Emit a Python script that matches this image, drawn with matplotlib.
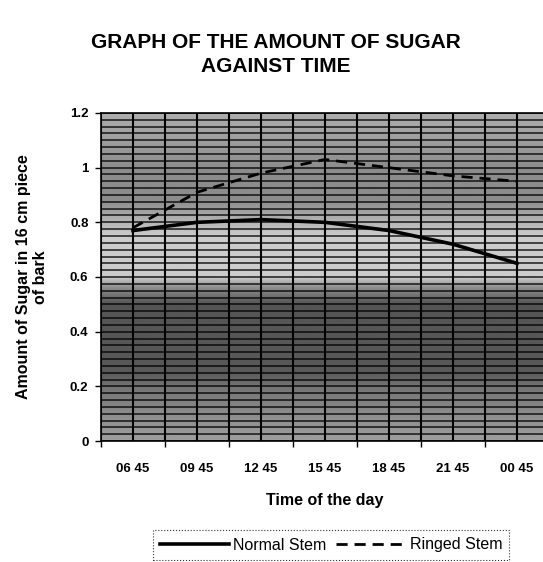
import matplotlib
matplotlib.use("Agg")
import matplotlib.pyplot as plt
import numpy as np

times = ["06 45", "09 45", "12 45", "15 45", "18 45", "21 45", "00 45"]
normal_stem = [0.77, 0.80, 0.81, 0.80, 0.77, 0.72, 0.65]
ringed_stem = [0.78, 0.91, 0.98, 1.03, 1.00, 0.97, 0.95]

plt.rcParams['font.family'] = ['Liberation Sans', 'DejaVu Sans']

W, H = 543, 562
fig = plt.figure(figsize=(W / 100, H / 100), dpi=100)
fig.patch.set_facecolor("white")

left = 101 / W
right = 549 / W
top = 1 - 113 / H
bottom = 1 - 441 / H
ax = fig.add_axes([left, bottom, right - left, top - bottom])

x = np.arange(len(times))

# background shading (scanned fill pattern approximation)
yy = np.linspace(0, 1.2, 240)
prof = np.interp(yy,
                 [0.0, 0.1, 0.2, 0.25, 0.5, 0.56, 0.6, 0.75, 0.82, 0.88, 1.0, 1.1, 1.2],
                 [0.62, 0.55, 0.45, 0.35, 0.33, 0.55, 0.80, 0.80, 0.68, 0.55, 0.55, 0.62, 0.68])
img = np.tile(prof[:, None], (1, 10))
ax.imshow(img, cmap="gray", vmin=0, vmax=1, origin="lower", aspect="auto",
          extent=[-0.5, 6.5, 0, 1.2], zorder=0, interpolation="bilinear")

# dense grid
for gx in np.arange(-0.5, 6.51, 0.5):
    ax.axvline(gx, color="black", lw=1.5, zorder=1)
for gy in np.arange(0, 1.2001, 0.025):
    ax.axhline(gy, color="black", lw=1.2, alpha=0.8, zorder=1)

ax.plot(x, normal_stem, color="black", lw=2.6, ls="-", label="Normal Stem", zorder=3)
ax.plot(x, ringed_stem, color="black", lw=2.0, ls=(0, (4, 2.5)), label="Ringed Stem", zorder=3)

ax.set_xlim(-0.5, 6.5)
ax.set_ylim(0, 1.2)
ax.set_yticks([0, 0.2, 0.4, 0.6, 0.8, 1.0, 1.2])
ax.set_yticklabels(["0", "0.2", "0.4", "0.6", "0.8", "1", "1.2"])
ax.set_xticks(x)
ax.set_xticklabels(times)
ax.set_xticks(np.arange(-0.5, 6.51, 1), minor=True)
ax.tick_params(axis="x", which="major", length=0, pad=16)
ax.tick_params(axis="x", which="minor", length=4, width=1, direction="out")
ax.tick_params(axis="y", length=4, width=1, direction="out", pad=5)
for lbl in ax.get_xticklabels() + ax.get_yticklabels():
    lbl.set_fontweight("bold")
    lbl.set_fontsize(9.5)
for s in ax.spines.values():
    s.set_color("black")
    s.set_linewidth(1.2)

ax.set_xlabel("Time of the day", fontsize=11.5, fontweight="bold", labelpad=13)
ax.set_ylabel("Amount of Sugar in 16 cm piece\nof bark", fontsize=11.5, fontweight="bold",
              labelpad=16, linespacing=1.1)

fig.text(276 / W, 1 - 42 / H, "GRAPH OF THE AMOUNT OF SUGAR", ha="center", va="center",
         fontsize=15, fontweight="bold")
fig.text(276 / W, 1 - 66 / H, "AGAINST TIME", ha="center", va="center",
         fontsize=15, fontweight="bold")

leg = fig.legend(loc="center", bbox_to_anchor=(331 / W, 1 - 545 / H), ncol=2,
                 frameon=True, fancybox=False, fontsize=11.5, handlelength=4.3,
                 columnspacing=0.6, handletextpad=0.3, borderpad=0.45)
leg.get_frame().set_edgecolor("black")
leg.get_frame().set_linestyle(":")
leg.get_frame().set_linewidth(0.8)

fig.savefig("out.png", dpi=100)
